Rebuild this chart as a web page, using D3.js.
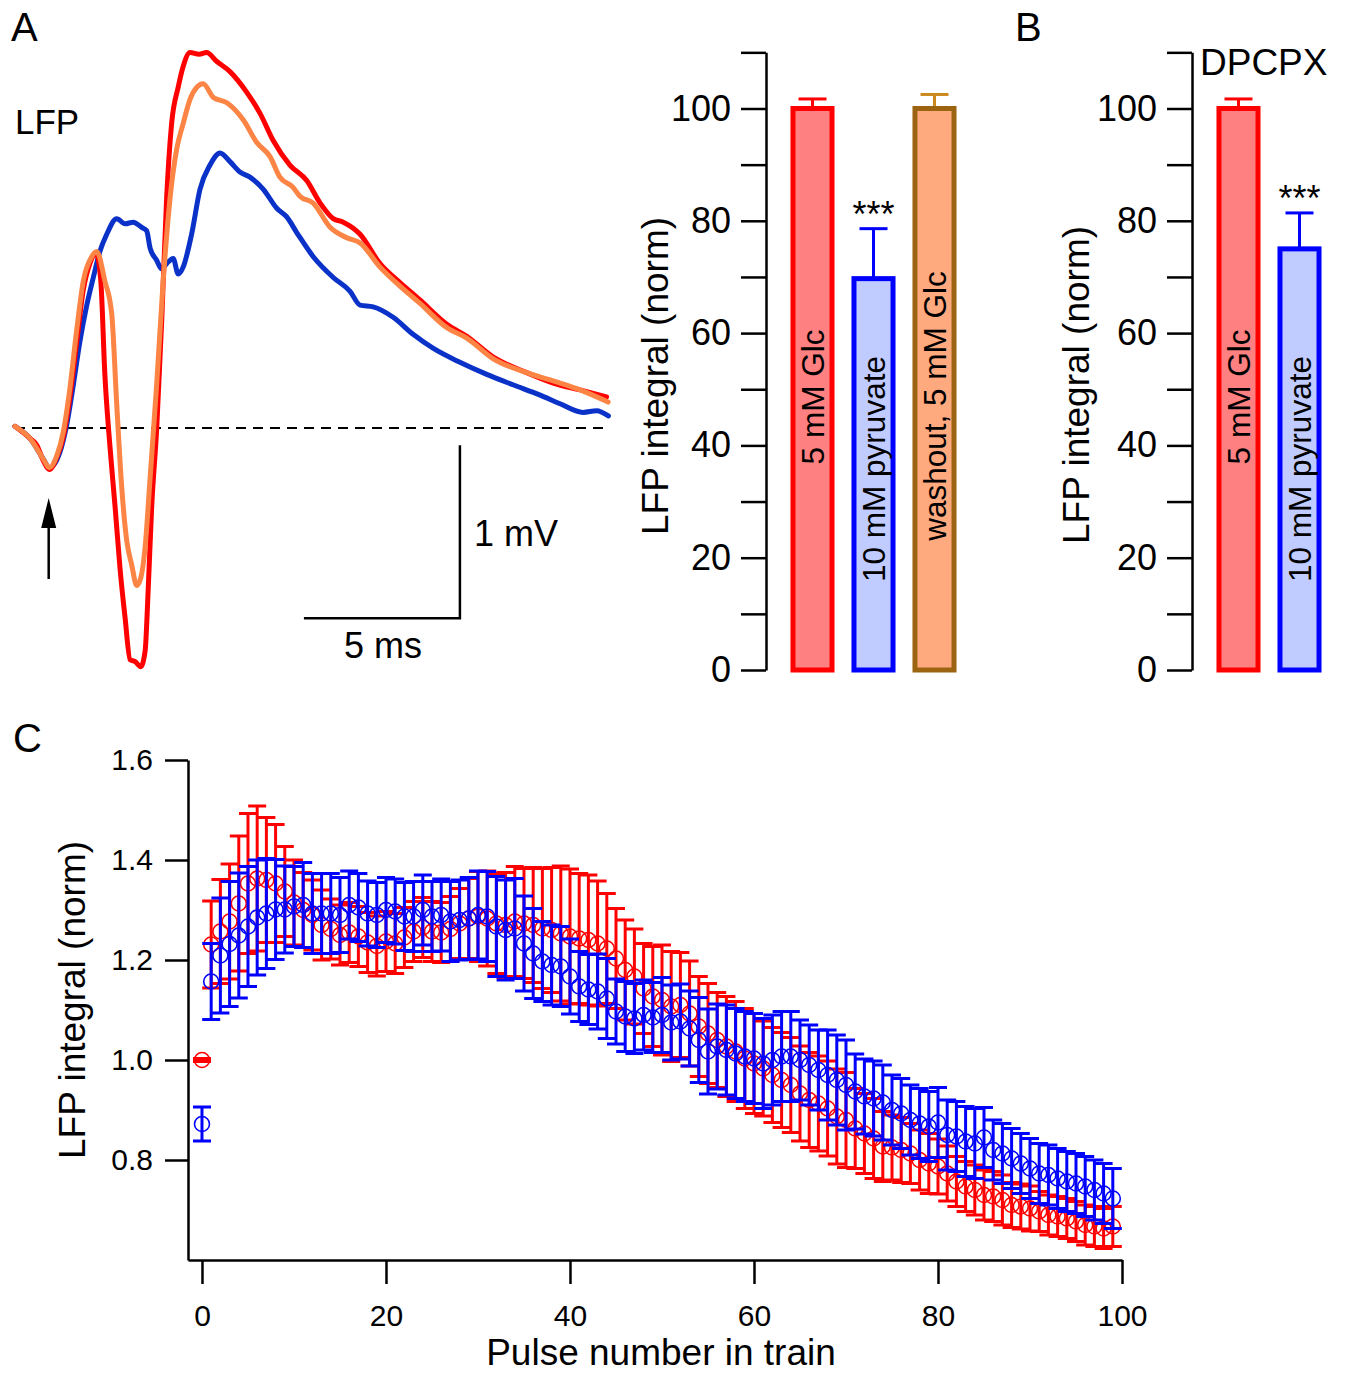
<!DOCTYPE html>
<html>
<head>
<meta charset="utf-8">
<script src="https://cdn.jsdelivr.net/npm/d3@7"></script>
<style>
body { margin: 0; background: #fff; }
text { font-family: "Liberation Sans", Arial, Helvetica, sans-serif; }
</style>
</head>
<body>
<script>
// ---- Panel A: example LFP traces (time in ms, voltage in mV)
var glcMs = [0,0.48,0.70,0.91,1.10,1.34,1.55,1.76,1.98,2.19,2.40,2.60,2.75,2.88,3.04,3.21,3.37,3.53,3.69,3.85,4.03,4.17,4.27,4.38,4.54,4.70,4.86,5.02,5.23,5.39,5.61,5.90,6.14,6.46,6.89,7.43,7.85,8.28,8.81,9.35,9.78,10.20,10.52,11.06,11.70,12.34,12.98,13.84,14.48,15.33,16.40,17.25,18.11,18.96];
var glcMv = [0.01,-0.06,-0.10,-0.19,-0.24,-0.17,-0.05,0.18,0.50,0.80,0.95,1.01,0.85,0.31,-0.10,-0.46,-0.82,-1.10,-1.34,-1.35,-1.38,-1.29,-0.93,-0.46,-0.01,0.61,1.33,1.76,1.97,2.09,2.17,2.16,2.17,2.12,2.06,1.94,1.82,1.66,1.52,1.43,1.30,1.21,1.19,1.12,0.95,0.84,0.74,0.60,0.53,0.41,0.32,0.26,0.22,0.18];

var pyrMs = [0,0.48,0.91,1.10,1.44,1.66,1.87,2.08,2.30,2.51,2.72,2.94,3.26,3.53,3.79,4.06,4.22,4.33,4.54,4.70,4.86,5.07,5.23,5.39,5.66,5.93,6.25,6.57,6.89,7.21,7.53,7.96,8.39,8.71,9.03,9.56,10.20,10.74,11.06,11.48,12.12,12.77,13.41,14.26,15.12,15.96,16.83,17.47,18.21,18.64,19.02];
var pyrMv = [0.01,-0.06,-0.18,-0.23,-0.14,0.02,0.25,0.50,0.71,0.87,1.02,1.12,1.21,1.18,1.19,1.16,1.14,1.04,0.97,0.92,0.95,0.98,0.89,0.93,1.12,1.38,1.52,1.59,1.54,1.48,1.45,1.38,1.27,1.22,1.13,0.99,0.87,0.79,0.71,0.70,0.64,0.54,0.46,0.38,0.31,0.25,0.19,0.14,0.09,0.10,0.07];

var washMs = [0,0.48,0.91,1.10,1.34,1.55,1.76,1.98,2.19,2.46,2.62,2.88,3.10,3.26,3.42,3.58,3.74,3.90,4.04,4.17,4.33,4.54,4.75,4.97,5.18,5.39,5.61,5.83,6.03,6.36,6.79,7.32,7.75,8.17,8.49,8.92,9.13,9.56,10.10,10.63,11.06,11.70,12.34,12.98,13.84,14.48,15.33,16.40,17.47,18.11,19.01];
var washMv = [0.01,-0.06,-0.18,-0.23,-0.16,-0.02,0.23,0.57,0.85,0.99,1.02,0.85,0.66,0.14,-0.34,-0.65,-0.79,-0.91,-0.86,-0.69,-0.29,0.25,0.85,1.33,1.61,1.76,1.90,1.97,1.99,1.91,1.88,1.78,1.65,1.57,1.45,1.39,1.34,1.30,1.16,1.10,1.07,0.93,0.82,0.72,0.58,0.52,0.40,0.32,0.26,0.22,0.15];

// ---- Panel A / B: normalised LFP integral bars
var barLabelsA = ["5 mM Glc", "10 mM pyruvate", "washout, 5 mM Glc"];
var barValuesA = [100, 69.7, 100];
var barErrorsA = [1.7, 8.9, 2.5];
var barStarsA = ["", "***", ""];

var barLabelsB = ["5 mM Glc", "10 mM pyruvate"];
var barValuesB = [100, 75];
var barErrorsB = [1.7, 6.4];
var barStarsB = ["", "***"];

var barTicks = [0, 10, 20, 30, 40, 50, 60, 70, 80, 90, 100, 110];

// ---- Panel C: LFP integral during the train (mean, SEM)
var glcTrain = [1.000,1.231,1.257,1.277,1.313,1.353,1.363,1.360,1.353,1.337,
  1.315,1.300,1.290,1.270,1.262,1.250,1.255,1.247,1.235,1.228,
  1.237,1.233,1.245,1.257,1.265,1.257,1.255,1.262,1.273,1.283,
  1.287,1.283,1.273,1.270,1.277,1.273,1.270,1.263,1.260,1.253,
  1.247,1.243,1.240,1.233,1.223,1.203,1.180,1.167,1.143,1.127,
  1.120,1.107,1.110,1.093,1.067,1.053,1.040,1.027,1.017,1.003,
  0.993,0.983,0.970,0.960,0.950,0.933,0.920,0.913,0.903,0.887,
  0.880,0.863,0.853,0.843,0.827,0.825,0.820,0.813,0.800,0.793,
  0.787,0.773,0.757,0.747,0.740,0.730,0.727,0.720,0.710,0.707,
  0.703,0.697,0.690,0.687,0.683,0.677,0.670,0.667,0.663,0.667];
var glcTrainErr = [0.003,0.087,0.104,0.115,0.135,0.140,0.145,0.125,0.118,0.090,
  0.085,0.075,0.070,0.070,0.060,0.060,0.060,0.060,0.060,0.060,
  0.060,0.060,0.060,0.060,0.060,0.060,0.060,0.065,0.070,0.080,
  0.090,0.095,0.100,0.105,0.110,0.110,0.115,0.120,0.125,0.135,
  0.135,0.130,0.130,0.125,0.110,0.100,0.100,0.095,0.090,0.100,
  0.110,0.110,0.105,0.105,0.100,0.100,0.095,0.100,0.100,0.100,
  0.100,0.095,0.095,0.095,0.095,0.095,0.095,0.095,0.095,0.095,
  0.095,0.080,0.080,0.080,0.070,0.065,0.065,0.060,0.060,0.060,
  0.055,0.055,0.050,0.050,0.050,0.050,0.050,0.050,0.045,0.045,
  0.045,0.040,0.040,0.040,0.040,0.040,0.040,0.040,0.040,0.040];

var pyrTrain = [0.872,1.157,1.209,1.232,1.249,1.267,1.285,1.293,1.301,1.301,
  1.307,1.310,1.293,1.293,1.293,1.290,1.310,1.305,1.293,1.290,
  1.300,1.297,1.287,1.287,1.300,1.287,1.290,1.277,1.280,1.283,
  1.290,1.287,1.267,1.260,1.263,1.233,1.213,1.197,1.190,1.187,
  1.167,1.147,1.141,1.137,1.123,1.097,1.087,1.083,1.090,1.085,
  1.090,1.075,1.077,1.063,1.040,1.017,1.027,1.020,1.013,1.007,
  1.003,0.993,1.000,1.007,1.007,1.000,0.990,0.980,0.970,0.960,
  0.950,0.937,0.927,0.923,0.915,0.900,0.893,0.880,0.873,0.867,
  0.875,0.850,0.847,0.837,0.833,0.845,0.820,0.813,0.803,0.793,
  0.783,0.773,0.770,0.763,0.757,0.753,0.747,0.740,0.733,0.723];
var pyrTrainErr = [0.034,0.076,0.115,0.125,0.125,0.120,0.115,0.110,0.100,0.087,
  0.080,0.085,0.080,0.080,0.080,0.075,0.068,0.068,0.065,0.065,
  0.065,0.065,0.068,0.070,0.070,0.070,0.072,0.080,0.080,0.082,
  0.088,0.090,0.100,0.100,0.100,0.095,0.090,0.080,0.080,0.080,
  0.075,0.070,0.070,0.075,0.080,0.065,0.070,0.070,0.070,0.070,
  0.075,0.075,0.075,0.075,0.085,0.085,0.085,0.090,0.090,0.090,
  0.090,0.090,0.090,0.090,0.090,0.080,0.080,0.080,0.090,0.090,
  0.090,0.075,0.075,0.075,0.075,0.070,0.070,0.070,0.070,0.070,
  0.070,0.070,0.070,0.070,0.070,0.060,0.060,0.060,0.060,0.060,
  0.060,0.060,0.060,0.060,0.060,0.060,0.060,0.060,0.060,0.060];

var trainTicks = [0, 20, 40, 60, 80, 100];
var normTicks = [0.8, 1.0, 1.2, 1.4, 1.6];

var svg = d3.select("body").append("svg")
  .attr("width", 1350)
  .attr("height", 1375);

function label(x, y, str, size, anchor) {
  return svg.append("text")
    .attr("x", x).attr("y", y)
    .attr("font-size", size)
    .attr("text-anchor", anchor || "start")
    .text(str);
}

// =========== Panel A: traces ===========
var tScale = d3.scaleLinear().domain([0, 19]).range([15, 607.8]);
var vScale = d3.scaleLinear().domain([0, 1]).range([428, 255]);

svg.append("line")
  .attr("x1", tScale(0)).attr("x2", tScale(19))
  .attr("y1", vScale(0)).attr("y2", vScale(0))
  .attr("stroke", "#000").attr("stroke-width", 2)
  .attr("stroke-dasharray", "10,7");

function drawTrace(ms, mv, color) {
  var line = d3.line()
    .curve(d3.curveMonotoneX)
    .x(function(d, i) { return tScale(ms[i]); })
    .y(function(d) { return vScale(d); });
  svg.append("path")
    .attr("d", line(mv))
    .attr("fill", "none")
    .attr("stroke", color)
    .attr("stroke-width", 5)
    .attr("stroke-linejoin", "round")
    .attr("stroke-linecap", "round");
}
drawTrace(pyrMs, pyrMv, "#0a32c8");
drawTrace(glcMs, glcMv, "#ff0000");
drawTrace(washMs, washMv, "#fc8444");

// scale bars: 5 ms and 1 mV
var sbX = tScale(14.26);
svg.append("path")
  .attr("d", "M" + tScale(9.26) + "," + vScale(-1.1) + "H" + sbX + "V" + vScale(-0.1))
  .attr("fill", "none").attr("stroke", "#000").attr("stroke-width", 2.5);
label(474, 546, "1 mV", 36);
label(383, 658, "5 ms", 36, "middle");

// stimulus arrow
var arX = tScale(1.08);
svg.append("line")
  .attr("x1", arX).attr("x2", arX).attr("y1", 579).attr("y2", 520)
  .attr("stroke", "#000").attr("stroke-width", 2.5);
svg.append("path")
  .attr("d", "M" + arX + ",498L" + (arX - 7.5) + ",528L" + (arX + 7.5) + ",528Z")
  .attr("fill", "#000");

label(15, 134, "LFP", 35);
label(11, 41, "A", 40);

// =========== Bar panels ===========
var barY = d3.scaleLinear().domain([0, 110]).range([670, 670 - 110 * 5.615]);

function drawBars(axisX, labels, values, errors, stars, fills, strokes, errColors, textY, ylabelX, ylabelY) {
  var g = svg.append("g");
  var bx = d3.scaleBand().domain(labels)
    .range([axisX + 16, axisX + 16 + 61 * labels.length])
    .paddingInner(0.36).paddingOuter(0.18);

  var axis = d3.axisLeft(barY)
    .tickValues(barTicks)
    .tickSize(25)
    .tickSizeOuter(0)
    .tickPadding(10)
    .tickFormat(function(d) { return d % 20 === 0 ? d : ""; });
  var ag = g.append("g").attr("transform", "translate(" + axisX + ",0)").call(axis);
  ag.attr("font-size", 36).attr("font-family", '"Liberation Sans", Arial, sans-serif');
  ag.selectAll("path, line").attr("stroke-width", 2.5);

  // error bars (upper half, drawn under the bars)
  labels.forEach(function(lab, i) {
    var cx = bx(lab) + bx.bandwidth() / 2;
    var top = barY(values[i] + errors[i]);
    g.append("line").attr("x1", cx).attr("x2", cx)
      .attr("y1", barY(values[i])).attr("y2", top)
      .attr("stroke", errColors[i]).attr("stroke-width", 3);
    g.append("line").attr("x1", cx - 14).attr("x2", cx + 14)
      .attr("y1", top).attr("y2", top)
      .attr("stroke", errColors[i]).attr("stroke-width", 3);
    if (stars[i]) {
      g.append("text").attr("x", cx).attr("y", top - 2)
        .attr("text-anchor", "middle").attr("font-size", 36)
        .text(stars[i]);
    }
  });

  g.selectAll("rect.bar").data(values).enter().append("rect")
    .attr("class", "bar")
    .attr("x", function(d, i) { return bx(labels[i]); })
    .attr("width", bx.bandwidth())
    .attr("y", function(d) { return barY(d); })
    .attr("height", function(d) { return barY(0) - barY(d); })
    .attr("fill", function(d, i) { return fills[i]; })
    .attr("stroke", function(d, i) { return strokes[i]; })
    .attr("stroke-width", 5);

  labels.forEach(function(lab, i) {
    var cx = bx(lab) + bx.bandwidth() / 2;
    g.append("text")
      .attr("transform", "translate(" + cx + "," + textY[i] + ") rotate(-90)")
      .attr("text-anchor", "middle")
      .attr("dominant-baseline", "central")
      .attr("font-size", 31.5)
      .text(lab);
  });

  g.append("text")
    .attr("transform", "translate(" + ylabelX + "," + ylabelY + ") rotate(-90)")
    .attr("text-anchor", "middle")
    .attr("dominant-baseline", "central")
    .attr("font-size", 37)
    .text("LFP integral (norm)");
}

drawBars(766, barLabelsA, barValuesA, barErrorsA, barStarsA,
  ["#ff8080", "#c0ccff", "#ffa97f"],
  ["#ff0000", "#0000ff", "#9c6410"],
  ["#ff0000", "#0000ff", "#cc8a1e"],
  [397, 469, 406], 655, 376);

drawBars(1192, barLabelsB, barValuesB, barErrorsB, barStarsB,
  ["#ff8080", "#c0ccff"],
  ["#ff0000", "#0000ff"],
  ["#ff0000", "#0000ff"],
  [397, 469], 1076, 385);

label(1015, 41, "B", 40);
label(1200, 75, "DPCPX", 37);

// =========== Panel C ===========
var px = d3.scaleLinear().domain([-1.52, 100]).range([188, 1122]);
var py = d3.scaleLinear().domain([0.6, 1.6]).range([1260, 760]);

var yAx = svg.append("g").attr("transform", "translate(188,0)")
  .call(d3.axisLeft(py).tickValues(normTicks).tickSize(23).tickSizeOuter(0)
    .tickPadding(12).tickFormat(d3.format(".1f")));
var xAx = svg.append("g").attr("transform", "translate(0,1260)")
  .call(d3.axisBottom(px).tickValues(trainTicks).tickSize(24).tickSizeOuter(0)
    .tickPadding(21));
[yAx, xAx].forEach(function(a) {
  a.attr("font-size", 30).attr("font-family", '"Liberation Sans", Arial, sans-serif');
  a.selectAll("path, line").attr("stroke-width", 2.5);
});

function drawSeries(means, errs, color) {
  var g = svg.append("g");
  var pts = means.map(function(m, i) { return { i: i, m: m, e: errs[i] }; });
  var eb = g.selectAll("g.eb").data(pts).enter().append("g")
    .attr("stroke", color).attr("stroke-width", 3).attr("fill", "none");
  eb.append("line")
    .attr("x1", function(d) { return px(d.i); })
    .attr("x2", function(d) { return px(d.i); })
    .attr("y1", function(d) { return py(d.m - d.e); })
    .attr("y2", function(d) { return py(d.m + d.e); });
  eb.append("line")
    .attr("x1", function(d) { return px(d.i) - 9; })
    .attr("x2", function(d) { return px(d.i) + 9; })
    .attr("y1", function(d) { return py(d.m + d.e); })
    .attr("y2", function(d) { return py(d.m + d.e); });
  eb.append("line")
    .attr("x1", function(d) { return px(d.i) - 9; })
    .attr("x2", function(d) { return px(d.i) + 9; })
    .attr("y1", function(d) { return py(d.m - d.e); })
    .attr("y2", function(d) { return py(d.m - d.e); });
  g.selectAll("circle").data(pts).enter().append("circle")
    .attr("cx", function(d) { return px(d.i); })
    .attr("cy", function(d) { return py(d.m); })
    .attr("r", 7.5)
    .attr("fill", "none")
    .attr("stroke", color)
    .attr("stroke-width", 1.6);
}
drawSeries(glcTrain, glcTrainErr, "#ff0000");
drawSeries(pyrTrain, pyrTrainErr, "#0000ff");

svg.append("text")
  .attr("transform", "translate(72,1000) rotate(-90)")
  .attr("text-anchor", "middle")
  .attr("dominant-baseline", "central")
  .attr("font-size", 37)
  .text("LFP integral (norm)");
label(661, 1365, "Pulse number in train", 37, "middle");
label(13, 752, "C", 40);
</script>
</body>
</html>
